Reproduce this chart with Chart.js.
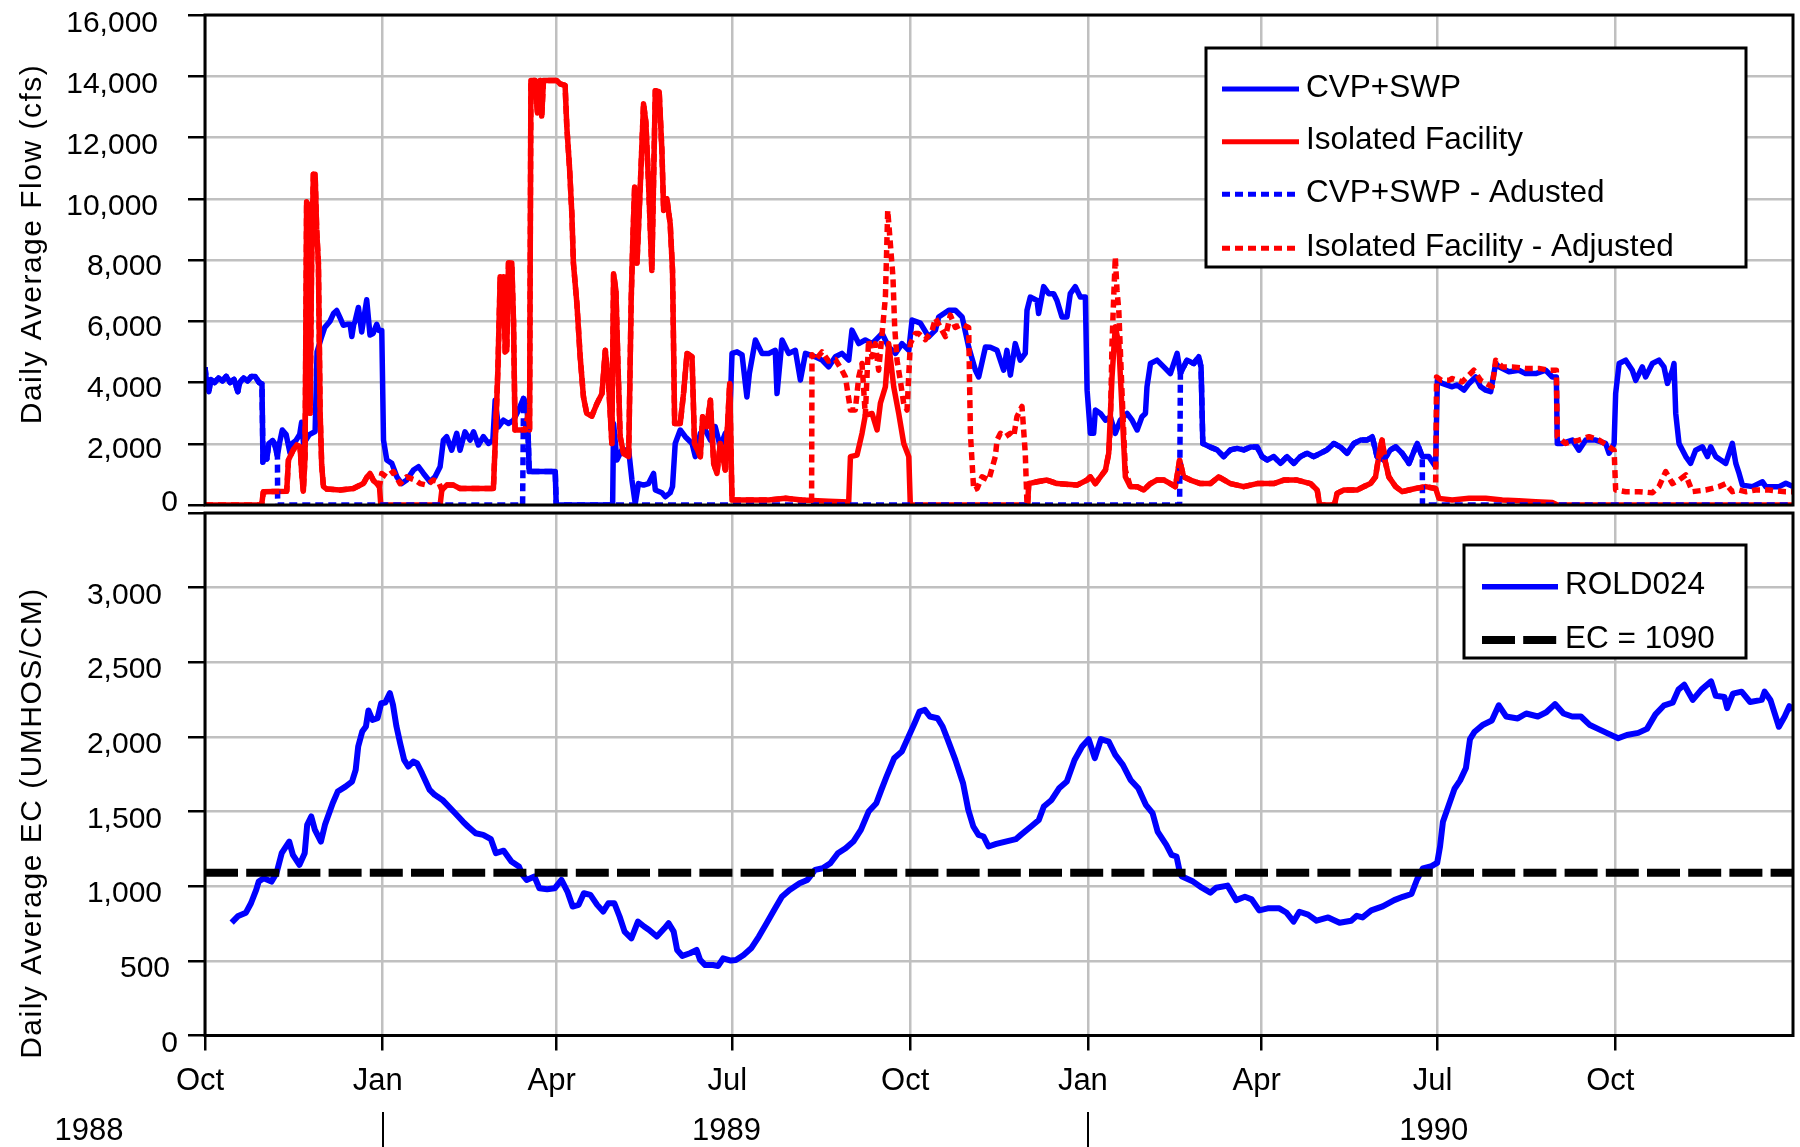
<!DOCTYPE html>
<html>
<head>
<meta charset="utf-8">
<script src="https://cdn.jsdelivr.net/npm/chart.js@4.4.0/dist/chart.umd.min.js"></script>
<style>
  html, body { margin: 0; padding: 0; background: #fff; }
  #wrap { position: relative; width: 1800px; height: 1147px; }
  canvas { position: absolute; left: 0; top: 0; }
</style>
</head>
<body>
<div id="wrap">
  <canvas id="flowChart" width="1800" height="1147"></canvas>
  <canvas id="ecChart" width="1800" height="1147"></canvas>
</div>
<script>
// x values are days counted from 1 Oct 1988
const tickDays = [0, 92, 182, 273, 365, 457, 547, 638, 730];
const monthLabels = ['Oct', 'Jan', 'Apr', 'Jul', 'Oct', 'Jan', 'Apr', 'Jul', 'Oct'];
const yearLabels = ['1988', '1989', '1990'];
const yearDays = [-60, 270, 636];
const yearBreaks = [92, 457];

const cvpDays = [0,1,2,3,5,7,9,11,13,15,17,18,20,22,24,26,28,29.5,30,31,32,33,35,36,37.5,38.5,40,42,44,45,47,49,50,51,54,57,58,60.4,62,64.7,66.5,68.2,70,71.6,73.5,75.1,76,77,77.7,79.4,81.1,83.7,85.4,87,88.9,90,91.5,92.4,94.1,96.7,99.3,101.8,104.4,107.9,110.5,113.1,116.5,119.1,121.7,123.4,125.1,127.7,130.3,132,134.6,137.2,139,141.5,144.1,146.7,149,150.2,151.9,154.5,157.1,159.7,162.3,164.9,166.9,167.8,181.3,181.8,211,211.5,213.2,215.8,219.3,221,222.7,224.4,227,229.6,232.2,233.1,236.5,238.3,240.8,242,243.4,246,248.6,252.1,253.8,256.4,259,261.6,264.1,266.7,269.3,271.4,272.8,275.4,278,280.5,281.8,284.9,288.3,291.8,295.2,296.1,298.7,302.1,305.6,308.2,310.8,315.9,319.4,322.8,326.3,329.7,333.2,334.9,338.4,341.8,345.3,350.5,353.9,357.4,360.8,364.3,366,370.3,374.6,378.1,379.8,385,388.4,391.9,395.3,398.8,400.5,404,406.5,410,413.4,415.1,416.9,419.4,422,424.6,425.5,427.2,430.7,431.5,434.1,436.7,439.3,441,443.6,446.2,447.9,450.5,453.1,455.7,456.6,458.3,460,460.9,463.5,466.1,468.6,471.2,473.8,477.3,479.9,482.5,485,486.8,487.6,489.4,492.8,496.3,499.7,503.2,504.9,508.3,511.8,514.4,515.6,516.5,520.4,523.9,527.3,530.8,534.2,537.7,541.1,544.6,547.2,549.8,553.2,556.7,560.1,563.6,567,570.5,573.9,577.4,580.8,584.3,587.8,591.2,594.7,598.1,601.6,604.2,606.7,610.2,613.6,616.3,619.7,623.2,627.5,630.1,633.5,637,637.9,640.4,645.6,648.2,651.7,654.3,657.7,660.3,662.9,665.5,668.1,669.8,675,680.1,683.6,688.8,694,697.4,699.5,700,702.6,707.8,711.2,714.7,719.9,725,726.8,729.4,730.2,732,735.4,738.8,740.6,744,745.7,749.2,752.6,755.2,757,759.6,760.4,761.3,763,766.5,769,771.6,775.1,777.7,779.4,782,784.6,787.2,790.6,792.4,794.1,795.8,801,806.2,807.9,814.8,818.3,822];
const cvpFlow = [4500,3900,3700,4100,4000,4150,4050,4200,4000,4100,3700,4000,4150,4050,4200,4200,4000,3950,1400,1850,1500,2000,2100,2000,1600,2000,2450,2300,1700,2000,2100,2300,2700,2000,2300,2400,5000,5500,5800,6000,6250,6350,6100,5870,5900,5900,5500,5900,6000,6450,5650,6700,5550,5600,5900,5700,5700,2120,1470,1360,920,700,815,1140,1250,1030,760,920,1250,2120,2230,1790,2340,1790,2390,2120,2390,1960,2230,2010,2120,3420,2550,2770,2660,2770,3100,3480,3100,1090,1090,0,0,2660,1470,1800,1800,815,50,700,650,700,1030,490,400,270,400,600,2010,2450,2230,2010,1580,2340,2450,2120,2560,1900,2340,2450,4950,5000,4900,3530,4300,5390,4950,4950,5050,3640,5390,4950,5050,4080,4950,4840,4730,4510,4840,4950,4730,5710,5270,5390,5270,5600,5160,4950,5270,5050,6040,5940,5490,5710,6140,6360,6360,6140,5160,4400,4180,5160,5150,5050,4400,5050,4240,5270,4730,4950,6360,6790,6680,6250,7130,6900,6900,6680,6140,6140,6900,7130,6790,6790,3750,2340,2340,3100,2990,2770,2880,2340,2770,2990,2770,2450,2880,2990,3860,4620,4730,4510,4290,4950,4290,4730,4620,4840,4500,2010,1890,1800,1580,1800,1850,1800,1890,1890,1580,1470,1580,1360,1580,1360,1580,1690,1580,1690,1800,2010,1890,1690,2010,2120,2120,2230,1580,1470,1800,1900,1690,1360,2010,1580,1580,1250,4070,3970,3860,3920,3750,3970,4180,3860,3750,3700,4620,4510,4350,4400,4290,4290,4400,4180,4180,2010,2010,2120,1790,2120,2120,2010,1690,2010,3640,4620,4730,4400,4070,4510,4180,4620,4730,4510,3970,4400,4620,2990,2010,1580,1360,1790,1900,1580,1900,1580,1470,1360,2010,1360,1030,650,600,760,600,600,710,600];

const isoDays = [0,29.3,30.2,42.3,43.2,45.7,47.5,49.2,50.1,50.9,51.8,52.6,53.5,54.4,55.2,56.1,57,57.8,58.7,59.6,60.4,61.3,63,69.9,76.8,82,83.7,85.4,87.2,88.9,90.3,91,121.7,122.6,125.2,128.6,132,139,145.9,149.3,150.2,151.6,152.8,153.6,154.5,155.4,156.2,157.1,158.8,159.7,160.5,163.1,165.7,167.4,168,168.7,170.9,172.1,173.5,174.3,175.2,182.1,183.8,186.4,187.3,188.7,189.9,190.7,192.5,194.2,195.9,197.6,200.2,202.8,205.5,207.2,208.9,210.6,211.5,212.7,213.7,214.9,216.7,219.3,220.6,221.5,222.4,223.6,225.3,227,228.2,229.6,231.3,233.1,235.1,236.5,237.4,239.1,240.8,242,243.1,246,247.7,249.5,252.1,253.4,256.4,257.6,259.8,261.6,263.3,265,266.7,269.3,271.6,272.8,291.8,300.4,309,322.8,333.2,334.1,337.5,340.1,341.8,345.3,347.9,349.6,352.2,353.9,356.5,359.1,361.7,364.3,365.1,425.8,426.4,430.7,435.8,441,451.4,456.6,458.3,460.9,463.5,466.1,467.8,469.5,471.2,473,474.7,476.4,479,482.5,485.9,489.4,492.8,496.3,499.7,502.3,504.5,506.6,510.1,515.3,520.4,524.7,530.8,537.7,544.6,553.2,558.4,565.3,572.2,575.7,577,584.6,586,589.5,596.4,599.8,603.3,605.9,608.1,609.3,611,612.8,616.3,619.7,623.2,626.6,631.8,637,638.7,645.6,654.3,662.9,671.5,680.1,688.8,697.4,700,822];
const isoFlow = [0,0,430,450,1470,1800,1960,1900,1000,450,1600,9900,9800,3000,8000,10800,10800,9000,7900,3000,1300,600,520,490,540,700,900,1030,800,700,600,0,0,490,650,650,540,540,540,540,2000,4400,7450,6000,7450,5000,5050,7900,7900,6000,2450,2450,2450,3000,2450,13860,13860,12800,13860,12700,13860,13860,13750,13700,12340,11000,9500,7900,6580,4840,3530,2990,2900,3300,3640,5050,3970,2010,7550,7000,4730,2230,1680,1580,6680,8750,10380,7900,10380,13100,12500,10490,7660,13530,13500,11580,9620,10000,9180,7660,2660,2660,3640,4950,4840,2010,1580,2880,2560,3420,1360,1030,2010,1140,3970,160,160,217,160,120,100,1580,1630,2340,2930,2990,2450,3320,3860,5270,3860,2990,2010,1580,0,0,700,760,815,700,650,815,920,700,920,1140,1690,4180,5820,5270,3100,920,600,600,490,700,815,815,700,600,1470,920,815,700,700,920,700,600,700,700,815,815,700,490,0,0,380,490,490,600,700,920,1800,2120,1400,920,600,435,490,540,600,540,217,160,217,217,160,140,110,80,0,0];

const cvpAdjDays = [0,1,2,3,5,7,9,11,13,15,17,18,20,22,24,26,28,29.5,30,31,32,33,35,36,37.5,37.6,164.4,164.9,166.9,167.8,181.3,181.8,504.5,504.9,508.3,511.8,514.4,515.6,516.5,520.4,523.9,527.3,530.8,534.2,537.7,541.1,544.6,547.2,549.8,553.2,556.7,560.1,563.6,567,570.5,573.9,577.4,580.8,584.3,587.8,591.2,594.7,598.1,601.6,604.2,606.7,610.2,613.6,616.3,619.7,623.2,627.5,630.1,630.2,822];
const cvpAdjFlow = [4500,3900,3700,4100,4000,4150,4050,4200,4000,4100,3700,4000,4150,4050,4200,4200,4000,3950,1400,1850,1500,2000,2100,2000,1600,0,0,3480,3100,1090,1090,0,0,4290,4730,4620,4840,4500,2010,1890,1800,1580,1800,1850,1800,1890,1890,1580,1470,1580,1360,1580,1360,1580,1690,1580,1690,1800,2010,1890,1690,2010,2120,2120,2230,1580,1470,1800,1900,1690,1360,2010,1580,0,0];

const isoAdjDays = [0,29.3,30.2,42.3,43.2,45.7,47.5,49.2,50.1,50.9,51.8,52.6,53.5,54.4,55.2,56.1,57,57.8,58.7,59.6,60.4,61.3,63,69.9,76.8,82,83.7,85.4,87.2,88.9,90.3,91.5,94,97.5,101,104.4,108.7,111.3,114.8,118.2,120.8,122.6,125.2,128.6,132,139,145.9,149.3,150.2,151.6,152.8,153.6,154.5,155.4,156.2,157.1,158.8,159.7,160.5,163.1,165.7,167.4,168,168.7,170.9,172.1,173.5,174.3,175.2,182.1,183.8,186.4,187.3,188.7,189.9,190.7,192.5,194.2,195.9,197.6,200.2,202.8,205.5,207.2,208.9,210.6,211.5,212.7,213.7,214.9,216.7,219.3,220.6,221.5,222.4,223.6,225.3,227,228.2,229.6,231.3,233.1,235.1,236.5,237.4,239.1,240.8,242,243.1,246,247.7,249.5,252.1,253.4,256.4,257.6,259.8,261.6,263.3,265,266.7,269.3,271.6,272.8,291.8,300.4,309,314,314.2,315.9,319.4,322.8,326.3,329.7,331.5,334.1,336.6,338.4,340.1,341.8,343.5,345.3,347,348.7,350.5,352.2,353.4,354.8,356.1,357,358.2,359.9,361.7,363.4,365.1,367.7,369.4,372.9,376.4,378.1,383.3,385.8,388.4,391.9,395.3,396.2,397.9,399.7,402.2,405.7,409.1,410,411.7,414.3,416.9,418.6,420.3,422.9,424.6,425.5,425.8,426.4,430.7,435.8,441,451.4,456.6,458.3,460.9,463.5,466.1,467.8,468.6,469.5,470.5,471.2,472.1,473,474.7,476.4,479,482.5,485.9,489.4,492.8,496.3,499.7,502.3,504.5,506.6,510.1,515.3,520.4,524.7,530.8,537.7,544.6,553.2,558.4,565.3,572.2,575.7,577,584.6,586,589.5,596.4,599.8,603.3,605.9,608.1,609.3,611,612.8,616.3,619.7,623.2,626.6,631.8,637,637.5,640,643.9,645.6,650.8,656.8,660.3,666.3,668.1,671.5,676.7,683.6,690.5,695.7,699.5,700,704.3,711.2,716.4,721.6,726.8,729.4,730.2,735.4,742.3,749.2,752.6,756.1,759.6,763,766.5,769.9,776.8,783.7,787.2,790.6,794.1,797.5,802.7,809.6,818.3,822];
const isoAdjFlow = [0,0,430,450,1470,1800,1960,1900,1000,450,1600,9900,9800,3000,8000,10800,10800,9000,7900,3000,1300,600,520,490,540,700,900,1030,800,700,600,1030,920,1090,700,920,815,700,650,815,760,490,650,650,540,540,540,540,2000,4400,7450,6000,7450,5000,5050,7900,7900,6000,2450,2450,2450,3000,2450,13860,13860,12800,13860,12700,13860,13860,13750,13700,12340,11000,9500,7900,6580,4840,3530,2990,2900,3300,3640,5050,3970,2010,7550,7000,4730,2230,1680,1580,6680,8750,10380,7900,10380,13100,12500,10490,7660,13530,13500,11580,9620,10000,9180,7660,2660,2660,3640,4950,4840,2010,1580,2880,2560,3420,1360,1030,2010,1140,3970,160,160,217,160,150,4910,4730,5000,4700,4750,4400,4180,3100,3100,4180,4620,2930,5390,4840,5270,4400,5600,6790,9620,8500,7450,5820,4730,4070,3300,3100,5270,5600,5600,5400,5700,6100,5500,6200,5800,5900,5800,2340,490,540,920,815,1580,2120,2340,2230,2340,2230,2880,3220,1690,0,0,700,760,815,700,650,815,920,700,920,1140,1690,2500,5270,7000,8100,7000,6360,3640,1140,600,600,490,700,815,815,700,600,1470,920,815,700,700,920,700,600,700,700,815,815,700,490,0,0,380,490,490,600,700,920,1800,2120,1400,920,600,435,490,540,600,540,4180,4070,4070,4130,4020,4400,4070,3860,4730,4510,4510,4460,4460,4400,4400,2230,2010,2120,2230,2120,1900,1790,490,435,435,400,600,1090,700,815,980,435,490,600,700,435,490,435,490,490,435,435];

const ecDays = [13.8,17.2,21.2,23.8,26.5,27.8,30.4,34.4,37,39.7,43.6,45.5,48.9,51.6,52.9,55,56.9,60,62.1,66.1,68.7,72.7,76.1,78,79.3,81.4,83.3,84.6,86.7,89.3,91.2,93.3,95.7,97.3,99.1,101,103.1,105.2,107.8,109.7,112.3,116.3,118.9,122.9,129.5,133.5,136.1,140.1,144,148,150.6,154.6,158.6,162.5,164.4,166.5,170.5,173.1,177.1,181,184.5,187.6,190.3,193.4,196.1,199.5,203,206.1,208.8,211.9,214.6,217.2,220.7,224.1,227.3,229.9,233.9,237.8,240,242.6,244.4,247.1,251,254.5,256.3,258.9,262.9,265.6,268.2,272.2,274.8,278.8,282.7,286.7,290.7,294.6,298.6,302.6,307.8,311.8,315.8,319.7,323.7,327.6,331.6,335.6,339.5,343.5,347.5,350.1,352.8,356.7,360.7,364.6,367.3,369.9,372.6,375.2,379.2,381.8,384.5,388.4,392.4,395.1,397.7,400.4,403,405.6,409.6,414.4,419.7,422.3,427.6,431.6,434.2,438.2,442.1,446.1,450.1,454,457.4,460.6,463.8,467.8,471.2,475.1,479.1,483.1,487,490.5,493.1,497.6,500.3,502.9,504.7,505.5,511.5,516,520.4,523.4,529.3,533.8,538.3,541.8,545.7,550.1,556.1,559.7,563.5,566.5,571,575.4,581.4,587.3,593.3,596.2,599.2,603.7,609.6,615.6,620,624.5,627.4,630.4,634.9,637.8,639.3,640.8,643.8,646.8,649.7,652.7,654.8,657.2,661.6,666.1,669.7,673.5,679.5,683.9,689.9,694.3,698.8,703.2,707.7,712.2,716.6,721.1,725.5,731.5,736,741.9,746.4,750.8,755.3,759.7,762.7,765.7,770.1,774.6,779.6,782,786.5,787.9,790.9,795.4,799.8,805.8,807.3,810.3,814.7,817.7,820.1,822];
const ecValues = [756,801,823,886,975,1031,1053,1031,1087,1221,1299,1210,1143,1221,1411,1467,1377,1299,1411,1556,1634,1667,1701,1779,1936,2036,2070,2177,2114,2125,2226,2230,2293,2215,2070,1958,1846,1802,1835,1824,1757,1645,1612,1578,1489,1433,1400,1355,1344,1315,1221,1238,1165,1132,1076,1042,1065,986,980,986,1042,964,864,875,953,942,875,830,886,886,797,696,651,763,730,707,663,718,752,696,573,533,551,573,506,472,472,466,517,502,506,539,584,663,752,841,930,975,1020,1042,1109,1120,1154,1221,1254,1299,1377,1500,1556,1645,1735,1857,1902,2014,2092,2170,2181,2137,2125,2070,1980,1846,1690,1511,1400,1344,1333,1266,1283,1299,1315,1344,1400,1444,1534,1578,1656,1701,1846,1936,1985,1858,1985,1969,1880,1813,1712,1656,1545,1489,1366,1277,1210,1199,1087,1067,1031,990,957,990,1004,907,929,912,838,852,852,824,763,829,810,769,791,755,769,802,791,838,865,907,929,948,1045,1120,1134,1156,1266,1432,1543,1653,1709,1792,1985,2035,2082,2110,2212,2137,2124,2157,2137,2165,2220,2157,2137,2137,2082,2054,2027,1991,2013,2027,2054,2151,2212,2229,2317,2350,2248,2317,2372,2276,2267,2193,2290,2303,2234,2248,2303,2248,2068,2137,2206,2184];
const ecStandard = 1090;

const FONT = '"Liberation Sans", Arial, sans-serif';
const GRID = '#c0c0c0';
const BLUE = '#0000ff';
const RED = '#ff0000';

function toPoints(days, vals) {
  return days.map((d, i) => ({ x: d, y: vals[i] }));
}

function frame(chart) {
  const { ctx, chartArea: a } = chart;
  ctx.save();
  ctx.strokeStyle = '#000';
  ctx.lineWidth = 3;
  ctx.strokeRect(a.left, a.top, a.right - a.left, a.bottom - a.top);
  ctx.restore();
}

function yLabels(chart, values, offset) {
  const ctx = chart.ctx, ys = chart.scales.y;
  ctx.save();
  ctx.font = '30px ' + FONT;
  ctx.fillStyle = '#000';
  ctx.textAlign = 'right';
  ctx.textBaseline = 'alphabetic';
  values.forEach(v => {
    const s = v.toLocaleString('en-US');
    ctx.fillText(s, 178 - 4 * (s.length - 1), ys.getPixelForValue(v) + offset(v) + 10.7);
  });
  ctx.restore();
}

function axisTitle(ctx, text, x, y) {
  ctx.save();
  ctx.translate(x, y);
  ctx.rotate(-Math.PI / 2);
  ctx.font = '30px ' + FONT;
  ctx.letterSpacing = '1.5px';
  ctx.fillStyle = '#000';
  ctx.textAlign = 'center';
  ctx.fillText(text, 0, 0);
  ctx.restore();
}

function legendBox(ctx, box, rows) {
  ctx.save();
  ctx.fillStyle = '#fff';
  ctx.fillRect(box.x, box.y, box.w, box.h);
  ctx.strokeStyle = '#000';
  ctx.lineWidth = 3;
  ctx.strokeRect(box.x, box.y, box.w, box.h);
  ctx.font = '31.5px ' + FONT;
  ctx.textBaseline = 'alphabetic';
  rows.forEach(r => {
    ctx.beginPath();
    ctx.strokeStyle = r.color;
    ctx.lineWidth = r.width;
    ctx.setLineDash(r.dash || []);
    ctx.moveTo(box.lineX0, r.y);
    ctx.lineTo(box.lineX1, r.y);
    ctx.stroke();
    ctx.fillStyle = '#000';
    ctx.fillText(r.label, box.textX, r.y + 7.5);
  });
  ctx.restore();
}

const flowDecor = {
  id: 'flowDecor',
  afterDatasetsDraw(chart) {
    const ctx = chart.ctx, ds = chart.data.datasets;
    frame(chart);
    yLabels(chart, [0, 2000, 4000, 6000, 8000, 10000, 12000, 14000, 16000],
      v => v === 0 ? -5 : 3 + 3.5 * v / 16000);
    axisTitle(ctx, 'Daily Average Flow (cfs)', 41, 244);
    legendBox(ctx, { x: 1206, y: 48, w: 540, h: 219, lineX0: 1222, lineX1: 1299, textX: 1306 },
      [89, 141.7, 194.3, 248.3].map((y, i) => ({
        y, label: ds[i].label, color: ds[i].borderColor, width: 5, dash: ds[i].borderDash
      })));
  }
};

const ecDecor = {
  id: 'ecDecor',
  afterDatasetsDraw(chart) {
    const ctx = chart.ctx, ds = chart.data.datasets, xs = chart.scales.x;
    frame(chart);
    yLabels(chart, [0, 500, 1000, 1500, 2000, 2500, 3000], () => 5.5);
    axisTitle(ctx, 'Daily Average EC (UMHOS/CM)', 41, 823);
    ctx.save();
    ctx.font = '31px ' + FONT;
    ctx.fillStyle = '#000';
    ctx.textAlign = 'center';
    tickDays.forEach((d, i) => ctx.fillText(monthLabels[i], xs.getPixelForValue(d) - 5, 1090));
    yearDays.forEach((d, i) => ctx.fillText(yearLabels[i], xs.getPixelForValue(d), 1140));
    ctx.strokeStyle = '#000';
    ctx.lineWidth = 2;
    yearBreaks.forEach(d => {
      const x = Math.round(xs.getPixelForValue(d));
      ctx.beginPath();
      ctx.moveTo(x, 1112);
      ctx.lineTo(x, 1147);
      ctx.stroke();
    });
    ctx.restore();
    legendBox(ctx, { x: 1464, y: 545, w: 282, h: 113, lineX0: 1482, lineX1: 1558, textX: 1565 },
      [586.7, 640].map((y, i) => ({
        y, label: ds[i].label, color: ds[i].borderColor, width: i ? 8 : 5.5, dash: ds[i].borderDash
      })));
  }
};

function xScale(showTicks) {
  return {
    type: 'linear', min: 0, max: 822,
    afterBuildTicks: axis => { axis.ticks = tickDays.map(v => ({ value: v })); },
    afterFit: axis => { axis.height = 0; },
    ticks: { display: false },
    border: { display: false },
    grid: {
      color: GRID, lineWidth: 2.5,
      drawTicks: showTicks, tickLength: 15, tickColor: '#000', tickWidth: 2.5
    }
  };
}

function yScale(max, step) {
  return {
    min: 0, max: max,
    ticks: { display: false, stepSize: step },
    afterFit: axis => { axis.width = 205; },
    border: { display: false },
    grid: { color: GRID, lineWidth: 2.5, drawTicks: true, tickLength: 17, tickColor: '#000', tickWidth: 2.5 }
  };
}

const lineStyle = { pointRadius: 0, tension: 0, fill: false, borderJoinStyle: 'round' };

new Chart(document.getElementById('flowChart'), {
  type: 'line',
  data: {
    datasets: [
      { ...lineStyle, label: 'CVP+SWP', data: toPoints(cvpDays, cvpFlow), borderColor: BLUE, borderWidth: 5.5, order: 4 },
      { ...lineStyle, label: 'Isolated Facility', data: toPoints(isoDays, isoFlow), borderColor: RED, borderWidth: 5.5, order: 3 },
      { ...lineStyle, label: 'CVP+SWP - Adusted', data: toPoints(cvpAdjDays, cvpAdjFlow), borderColor: BLUE, borderWidth: 5.5, borderDash: [8, 5], order: 2 },
      { ...lineStyle, label: 'Isolated Facility - Adjusted', data: toPoints(isoAdjDays, isoAdjFlow), borderColor: RED, borderWidth: 5.5, borderDash: [8, 5], order: 1 }
    ]
  },
  options: {
    responsive: false, animation: false, devicePixelRatio: 1,
    layout: { padding: { left: 0, right: 7, top: 15, bottom: 642 } },
    plugins: { legend: { display: false }, tooltip: { enabled: false } },
    scales: { x: xScale(false), y: yScale(16000, 2000) }
  },
  plugins: [flowDecor]
});

new Chart(document.getElementById('ecChart'), {
  type: 'line',
  data: {
    datasets: [
      { ...lineStyle, label: 'ROLD024', data: toPoints(ecDays, ecValues), borderColor: BLUE, borderWidth: 6, order: 2 },
      { ...lineStyle, label: 'EC = ' + ecStandard, data: toPoints([0, 822], [ecStandard, ecStandard]), borderColor: '#000', borderWidth: 8, borderDash: [33, 8.2], order: 1 }
    ]
  },
  options: {
    responsive: false, animation: false, devicePixelRatio: 1,
    layout: { padding: { left: 0, right: 7, top: 513, bottom: 111.5 } },
    plugins: { legend: { display: false }, tooltip: { enabled: false } },
    scales: { x: xScale(true), y: yScale(3500, 500) }
  },
  plugins: [ecDecor]
});
</script>
</body>
</html>
